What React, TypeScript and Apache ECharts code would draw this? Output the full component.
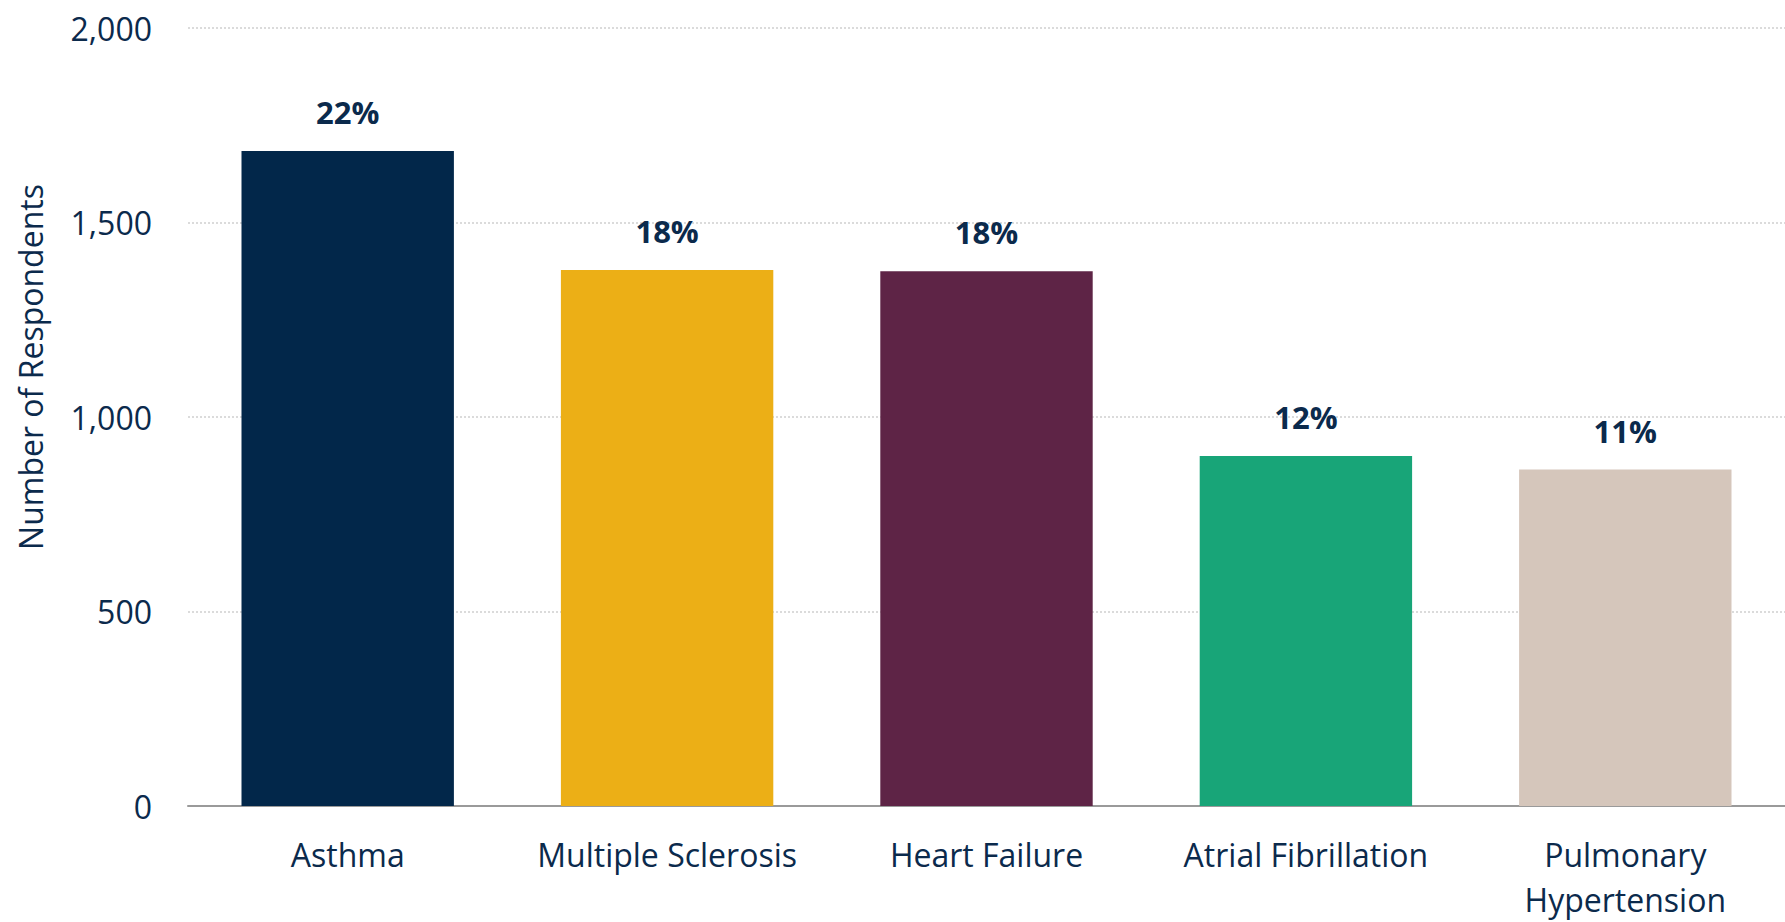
import React, { useEffect, useRef } from "react";
import * as echarts from "echarts";

const categories = ["Asthma", "Multiple Sclerosis", "Heart Failure", "Atrial Fibrillation", "Pulmonary\nHypertension"];
const respondents = [1684, 1378, 1375, 900, 865];
const percentLabels = ["22%", "18%", "18%", "12%", "11%"];
const barColors = ["#02274A", "#ECAF16", "#5E2446", "#18A578", "#D5C6BB"];
const yTicks = { min: 0, max: 2000, interval: 500 };
const yAxisTitle = "Number of Respondents";

const TEXT = "#0B2A4C";
const FONT = "'Open Sans', 'Noto Sans', sans-serif";

export default function App() {
  const ref = useRef<HTMLDivElement>(null);
  useEffect(() => {
    if (!ref.current) return;
    document.body.style.margin = "0";
    const chart = echarts.init(ref.current, undefined, { renderer: "svg" });
    chart.setOption({
      animation: false,
      backgroundColor: "#ffffff",
      textStyle: { fontFamily: FONT },
      grid: { left: 188, top: 28, bottom: 109, width: 1608, containLabel: false },
      xAxis: {
        type: "category",
        data: categories,
        axisTick: { show: false },
        axisLine: { show: true, lineStyle: { color: "#9A9A9A", width: 2 } },
        axisLabel: {
          color: TEXT,
          fontSize: 32,
          fontFamily: FONT,
          lineHeight: 45,
          margin: 26,
          interval: 0,
        },
      },
      yAxis: {
        type: "value",
        min: yTicks.min,
        max: yTicks.max,
        interval: yTicks.interval,
        axisLine: { show: false },
        axisTick: { show: false },
        axisLabel: {
          color: TEXT,
          fontSize: 32,
          fontFamily: FONT,
          margin: 36,
          formatter: (v: number) => v.toLocaleString("en-US"),
        },
        splitLine: { show: true, lineStyle: { color: "#CFCFCF", type: [2, 2], width: 1.5 } },
      },
      graphic: [
        {
          type: "text",
          x: 30,
          y: 367,
          rotation: Math.PI / 2,
          style: {
            text: yAxisTitle,
            fill: TEXT,
            font: `32px ${FONT}`,
            align: "center",
            verticalAlign: "middle",
          },
        },
      ],
      series: [
        {
          type: "bar",
          data: respondents.map((v, i) => ({ value: v, itemStyle: { color: barColors[i] } })),
          barCategoryGap: "33.5%",
          label: {
            show: true,
            position: "top",
            distance: 19,
            color: TEXT,
            fontSize: 31,
            fontWeight: "bold",
            fontFamily: FONT,
            lineHeight: 40,
            formatter: (p: any) => percentLabels[p.dataIndex],
          },
        },
      ],
    });
    return () => chart.dispose();
  }, []);
  return (
    <div
      ref={ref}
      style={{ position: "fixed", left: 0, top: 0, width: 1785, height: 922, background: "#fff" }}
    />
  );
}
